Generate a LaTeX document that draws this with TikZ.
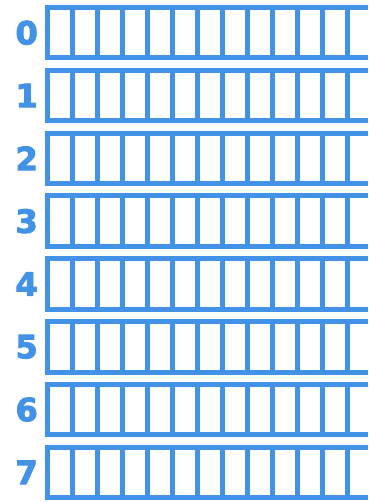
\documentclass[tikz,border=0pt]{standalone}
\usepackage{fontspec}
\setmainfont{DejaVu Sans}
\newfontfamily\numfont[FakeBold=3]{DejaVu Sans Bold}
\usetikzlibrary{positioning, calc}
\definecolor{cellblue}{RGB}{66,146,232}

\begin{document}
\begin{tikzpicture}[
  x=1pt, y=1pt,
  rowline/.style={draw=cellblue, line width=5pt, line join=miter},
  cell/.style={draw=cellblue, line width=5pt},
  num/.style={text=cellblue, font=\numfont\fontsize{32}{32}\selectfont,
              inner sep=0pt, anchor=east}
]
\useasboundingbox (0,0) rectangle (368,-502);

% --- eight rows of cells, numbered 0 to 7 ---
\foreach \r in {0,...,7}{
  \pgfmathsetmacro{\ytop}{-(7.5+62.8*\r)}
  \pgfmathsetmacro{\ybot}{\ytop-50.5}
  \pgfmathsetmacro{\ymid}{(\ytop+\ybot)/2}
  \node[num] (n\r) at (38,\ymid) {\r};
  \coordinate (tl\r) at (47.5,\ytop);
  \coordinate (bl\r) at (47.5,\ybot);
  \coordinate (tr\r) at (368,\ytop);
  \coordinate (br\r) at (368,\ybot);
  \draw[rowline] (tr\r) -- (tl\r) -- (bl\r) -- (br\r);
  \foreach \k in {1,...,12}{
    \draw[cell] ($(tl\r)+(25*\k,0)$) -- ($(bl\r)+(25*\k,0)$);
  }
}
\end{tikzpicture}
\end{document}
